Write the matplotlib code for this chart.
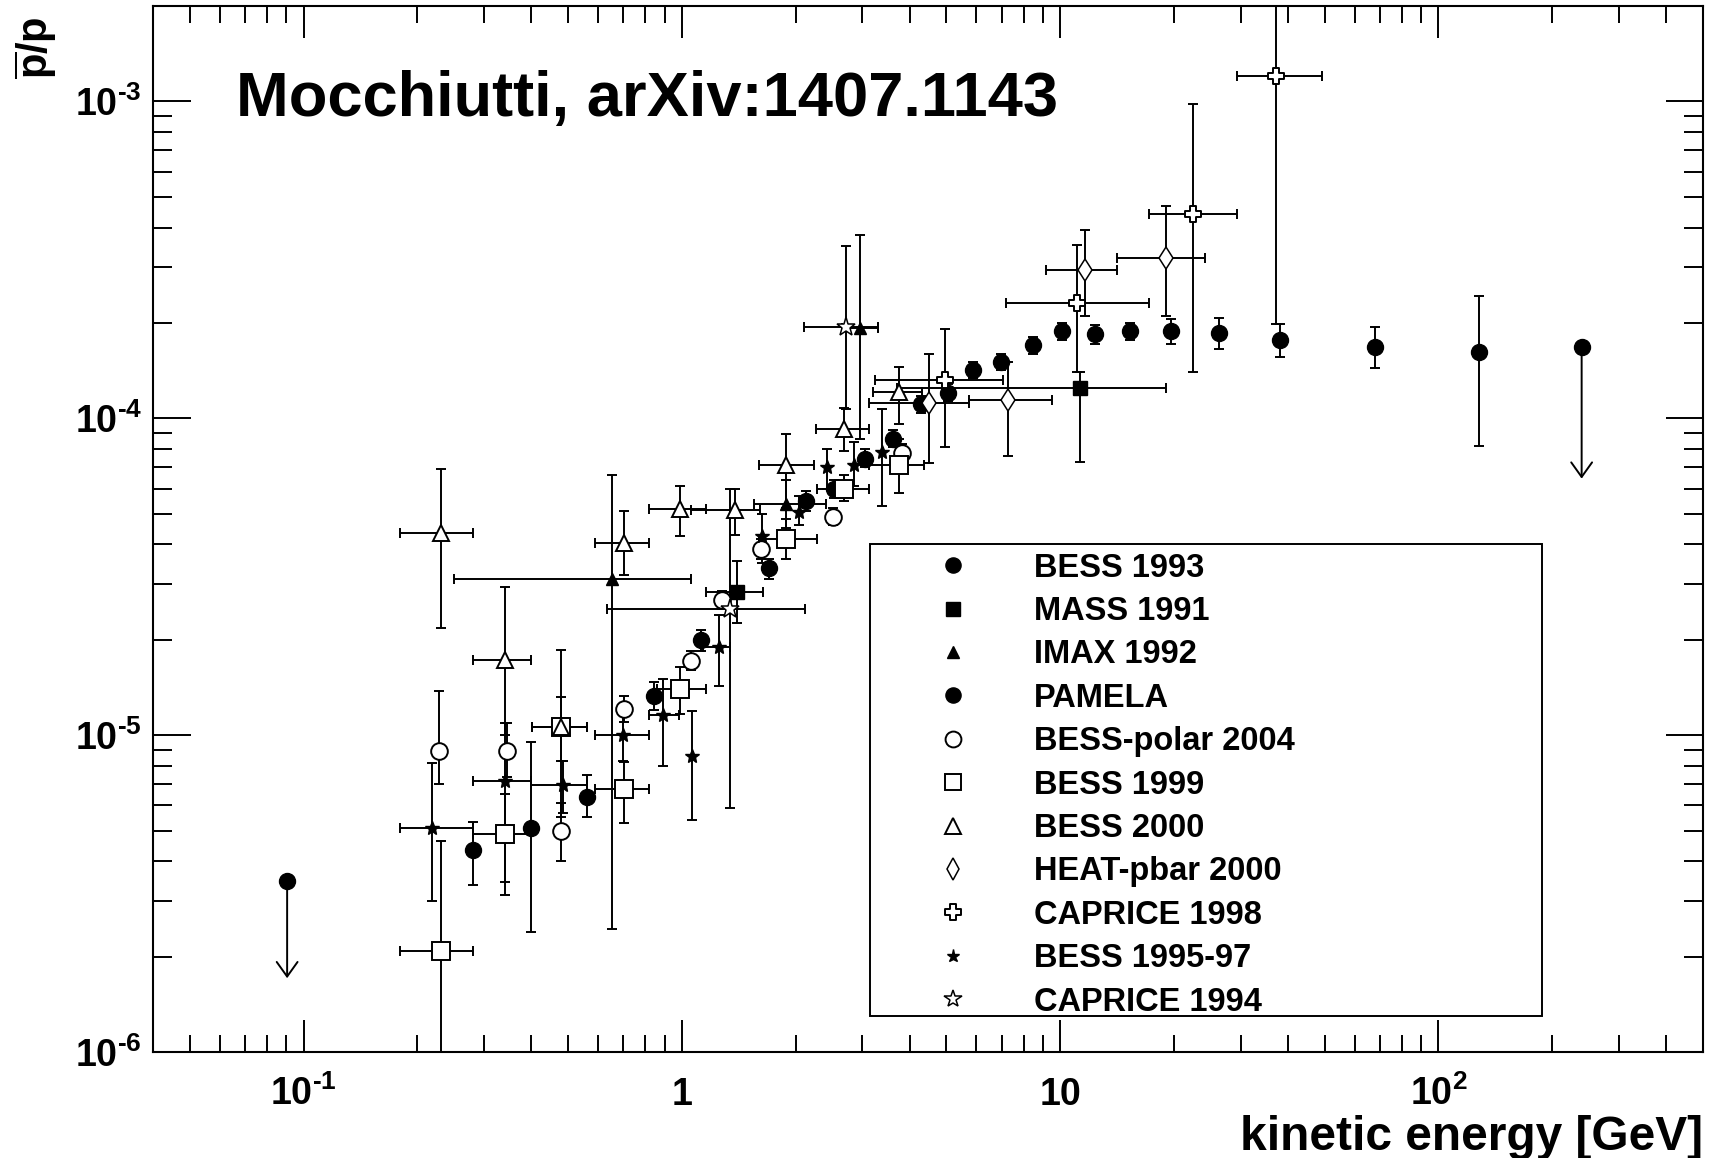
import numpy as np
import matplotlib
matplotlib.use('Agg')
import matplotlib.pyplot as plt
from matplotlib.path import Path
from matplotlib.lines import Line2D
from matplotlib.patches import Rectangle
from matplotlib.ticker import FixedLocator, FuncFormatter, LogLocator, NullFormatter

plt.rcParams['font.family'] = ['Liberation Sans', 'DejaVu Sans']
plt.rcParams['font.weight'] = 'bold'
plt.rcParams['mathtext.fontset'] = 'custom'
plt.rcParams['mathtext.rm'] = 'Liberation Sans:bold'
plt.rcParams['mathtext.bf'] = 'Liberation Sans:bold'
plt.rcParams['mathtext.it'] = 'Liberation Sans:bold'

# ---- data: kinetic energy [GeV], pbar/p ratio, error bounds ----
bess93_E = [0.40]
bess93_R = [5.1e-6]
bess93_lo = [2.4e-6]
bess93_hi = [9.5e-6]

mass91_E = [1.40, 11.3]
mass91_Elo = [1.155, 3.7]
mass91_Ehi = [1.64, 19.1]
mass91_R = [2.83e-5, 1.25e-4]
mass91_lo = [2.26e-5, 7.3e-5]
mass91_hi = [3.55e-5, 1.4e-4]

imax92_E = [0.655, 1.88, 2.95]
imax92_Elo = [0.25, 1.55, 2.65]
imax92_Ehi = [1.06, 2.4, 3.3]
imax92_R = [3.1e-5, 5.35e-5, 1.93e-4]
imax92_lo = [2.45e-6, 4.5e-5, 8.6e-5]
imax92_hi = [6.6e-5, 6.4e-5, 3.8e-4]

pamela_E = [0.28, 0.56, 0.845, 1.125, 1.70, 2.13, 2.53, 3.04, 3.62, 4.29, 5.05,
            5.9, 6.97, 8.5, 10.1, 12.35, 15.3, 19.6, 26.3, 38.0, 68.0, 127.6]
pamela_R = [4.33e-6, 6.4e-6, 1.33e-5, 1.99e-5, 3.36e-5, 5.5e-5, 6.0e-5, 7.45e-5,
            8.61e-5, 1.11e-4, 1.2e-4, 1.42e-4, 1.5e-4, 1.70e-4, 1.88e-4, 1.84e-4,
            1.88e-4, 1.88e-4, 1.86e-4, 1.76e-4, 1.68e-4, 1.62e-4]
pamela_lo = [3.36e-6, 5.5e-6, 1.2e-5, 1.85e-5, 3.1e-5, 5.1e-5, 5.6e-5, 7.0e-5,
             8.1e-5, 1.04e-4, 1.13e-4, 1.34e-4, 1.42e-4, 1.60e-4, 1.76e-4, 1.72e-4,
             1.76e-4, 1.72e-4, 1.66e-4, 1.56e-4, 1.44e-4, 8.2e-5]
pamela_hi = [5.33e-6, 7.5e-6, 1.47e-5, 2.15e-5, 3.6e-5, 5.9e-5, 6.4e-5, 8.0e-5,
             9.2e-5, 1.18e-4, 1.28e-4, 1.51e-4, 1.60e-4, 1.81e-4, 2.0e-4, 1.97e-4,
             2.0e-4, 2.06e-4, 2.08e-4, 1.98e-4, 1.94e-4, 2.43e-4]
# upper limits (drawn with arrows)
pamela_ul_E = [0.0905, 239]
pamela_ul_R = [3.47e-6, 1.68e-4]
pamela_ul_to = [1.71e-6, 6.45e-5]

bpolar_E = [0.228, 0.344, 0.479, 0.705, 1.055, 1.28, 1.62, 2.51, 3.83]
bpolar_R = [8.89e-6, 8.89e-6, 5.0e-6, 1.21e-5, 1.72e-5, 2.67e-5, 3.87e-5, 4.89e-5, 7.78e-5]
bpolar_lo = [7.0e-6, 7.4e-6, 4.0e-6, 1.1e-5, 1.6e-5, 2.5e-5, 3.6e-5, 4.6e-5, 7.3e-5]
bpolar_hi = [1.38e-5, 1.09e-5, 6.1e-6, 1.33e-5, 1.85e-5, 2.85e-5, 4.15e-5, 5.2e-5, 8.3e-5]

bess99_E = [0.231, 0.340, 0.479, 0.705, 0.989, 1.89, 2.69, 3.74]
bess99_Elo = [0.180, 0.28, 0.402, 0.59, 0.862, 1.6, 2.27, 3.13]
bess99_Ehi = [0.280, 0.40, 0.56, 0.82, 1.155, 2.27, 3.13, 4.36]
bess99_R = [2.08e-6, 4.86e-6, 1.06e-5, 6.78e-6, 1.40e-5, 4.17e-5, 6.0e-5, 7.13e-5]
bess99_lo = [5e-7, 3.13e-6, 8.3e-6, 5.3e-6, 1.17e-5, 3.6e-5, 5.5e-5, 5.8e-5]
bess99_hi = [4.64e-6, 6.5e-6, 1.32e-5, 8.2e-6, 1.64e-5, 4.8e-5, 6.6e-5, 8.6e-5]

bess00_E = [0.231, 0.34, 0.479, 0.705, 0.99, 1.385, 1.89, 2.69, 3.74]
bess00_Elo = [0.18, 0.28, 0.402, 0.59, 0.82, 1.055, 1.60, 2.26, 3.2]
bess00_Ehi = [0.28, 0.40, 0.56, 0.82, 1.155, 1.61, 2.24, 3.13, 4.3]
bess00_R = [4.33e-5, 1.73e-5, 1.06e-5, 4.03e-5, 5.18e-5, 5.13e-5, 7.1e-5, 9.27e-5, 1.21e-4]
bess00_lo = [2.18e-5, 1.0e-5, 5.5e-6, 3.2e-5, 4.25e-5, 4.27e-5, 5.2e-5, 7.9e-5, 9.6e-5]
bess00_hi = [6.92e-5, 2.94e-5, 1.86e-5, 5.1e-5, 6.13e-5, 6.0e-5, 8.95e-5, 1.08e-4, 1.45e-4]

heat_E = [4.5, 7.3, 11.6, 19.05]
heat_Elo = [3.13, 5.75, 9.2, 14.1]
heat_Ehi = [5.75, 9.5, 14.1, 24.2]
heat_R = [1.12e-4, 1.14e-4, 2.93e-4, 3.21e-4]
heat_lo = [7.2e-5, 7.6e-5, 2.11e-4, 2.11e-4]
heat_hi = [1.6e-4, 1.51e-4, 3.94e-4, 4.66e-4]

cap98_E = [4.97, 11.1, 22.4, 37.3]
cap98_Elo = [3.24, 7.2, 17.2, 29.3]
cap98_Ehi = [7.08, 17.2, 29.3, 49.3]
cap98_R = [1.32e-4, 2.31e-4, 4.4e-4, 1.2e-3]
cap98_lo = [8.1e-5, 1.4e-4, 1.4e-4, 1.98e-4]
cap98_hi = [1.91e-4, 3.51e-4, 9.8e-4, 3.0e-3]

bess9597_E = [0.219, 0.34, 0.486, 0.698, 0.894, 1.065, 1.256, 1.63, 2.04, 2.42, 2.85, 3.38]
bess9597_Elo = [0.18, 0.28, 0.40, 0.59, 0.82, 1.065, 1.14, 1.63, 2.04, 2.42, 2.85, 3.38]
bess9597_Ehi = [0.28, 0.40, 0.56, 0.82, 0.98, 1.065, 1.34, 1.63, 2.04, 2.42, 2.85, 3.38]
bess9597_R = [5.1e-6, 7.16e-6, 6.95e-6, 1.0e-5, 1.16e-5, 8.6e-6, 1.9e-5, 4.25e-5,
              5.07e-5, 7.0e-5, 7.1e-5, 7.82e-5]
bess9597_lo = [2.99e-6, 3.45e-6, 5.7e-6, 8.3e-6, 8.0e-6, 5.4e-6, 1.43e-5, 3.5e-5,
               4.6e-5, 6.0e-5, 6.1e-5, 5.3e-5]
bess9597_hi = [8.15e-6, 1.09e-5, 8.3e-6, 1.2e-5, 1.5e-5, 1.19e-5, 2.39e-5, 5.0e-5,
               5.7e-5, 8.0e-5, 8.4e-5, 1.07e-4]

cap94_E = [1.34, 2.72]
cap94_Elo = [0.635, 2.1]
cap94_Ehi = [2.11, 3.3]
cap94_R = [2.5e-5, 1.94e-4]
cap94_lo = [5.9e-6, 1.07e-4]
cap94_hi = [6.0e-5, 3.5e-4]

# open cross marker (ROOT style 28)
a = 0.17
cross_path = Path([(-a, 0.5), (a, 0.5), (a, a), (0.5, a), (0.5, -a), (a, -a),
                   (a, -0.5), (-a, -0.5), (-a, -a), (-0.5, -a), (-0.5, a), (-a, a),
                   (-a, 0.5)], closed=True)

LW = 1.4

fig = plt.figure(figsize=(17.17, 11.58), dpi=100)
ax = fig.add_axes([0.0891, 0.0915, 0.9027, 0.9033])


def draw(E, R, lo, hi, Elo=None, Ehi=None, **style):
    E = np.asarray(E)
    R = np.asarray(R)
    yerr = [R - np.asarray(lo), np.asarray(hi) - R]
    ax.errorbar(E, R, yerr=yerr, fmt='none', ecolor='black', elinewidth=LW,
                capsize=3.6, capthick=LW, zorder=2)
    if Elo is not None:
        Elo = np.asarray(Elo)
        Ehi = np.asarray(Ehi)
        m = (Ehi - Elo) > 0
        ax.errorbar(E[m], R[m], xerr=[E[m] - Elo[m], Ehi[m] - E[m]], fmt='none',
                    ecolor='black', elinewidth=LW, capsize=3.6, capthick=LW, zorder=2)
    ax.plot(E, R, linestyle='none', zorder=3, **style)


st = {
    'BESS 1993': dict(marker='o', ms=11.5, mfc='black', mec='black'),
    'MASS 1991': dict(marker='s', ms=10.5, mfc='black', mec='black'),
    'IMAX 1992': dict(marker='^', ms=9, mfc='black', mec='black'),
    'PAMELA': dict(marker='o', ms=11.5, mfc='black', mec='black'),
    'BESS-polar 2004': dict(marker='o', ms=12, mfc='white', mec='black', mew=LW),
    'BESS 1999': dict(marker='s', ms=12.5, mfc='white', mec='black', mew=LW),
    'BESS 2000': dict(marker='^', ms=12, mfc='white', mec='black', mew=LW),
    'HEAT-pbar 2000': dict(marker='d', ms=11.5, mfc='white', mec='black', mew=1.1),
    'CAPRICE 1998': dict(marker=cross_path, ms=12, mfc='white', mec='black', mew=LW),
    'BESS 1995-97': dict(marker='*', ms=10, mfc='black', mec='black'),
    'CAPRICE 1994': dict(marker='*', ms=14, mfc='white', mec='black', mew=1.1),
}

draw(bess93_E, bess93_R, bess93_lo, bess93_hi, **st['BESS 1993'])
draw(mass91_E, mass91_R, mass91_lo, mass91_hi, mass91_Elo, mass91_Ehi, **st['MASS 1991'])
draw(imax92_E, imax92_R, imax92_lo, imax92_hi, imax92_Elo, imax92_Ehi, **st['IMAX 1992'])
draw(pamela_E, pamela_R, pamela_lo, pamela_hi, **st['PAMELA'])
ax.plot(pamela_ul_E, pamela_ul_R, linestyle='none', zorder=3, **st['PAMELA'])
for e, r, t in zip(pamela_ul_E, pamela_ul_R, pamela_ul_to):
    ax.annotate('', xy=(e, t), xytext=(e, r),
                arrowprops=dict(arrowstyle='->,head_length=0.35,head_width=0.25',
                                color='black', lw=LW, mutation_scale=30,
                                shrinkA=0, shrinkB=0), zorder=2)
draw(bpolar_E, bpolar_R, bpolar_lo, bpolar_hi, **st['BESS-polar 2004'])
draw(bess99_E, bess99_R, bess99_lo, bess99_hi, bess99_Elo, bess99_Ehi, **st['BESS 1999'])
draw(bess00_E, bess00_R, bess00_lo, bess00_hi, bess00_Elo, bess00_Ehi, **st['BESS 2000'])
draw(heat_E, heat_R, heat_lo, heat_hi, heat_Elo, heat_Ehi, **st['HEAT-pbar 2000'])
draw(cap98_E, cap98_R, cap98_lo, cap98_hi, cap98_Elo, cap98_Ehi, **st['CAPRICE 1998'])
draw(bess9597_E, bess9597_R, bess9597_lo, bess9597_hi, bess9597_Elo, bess9597_Ehi,
     **st['BESS 1995-97'])
draw(cap94_E, cap94_R, cap94_lo, cap94_hi, cap94_Elo, cap94_Ehi, **st['CAPRICE 1994'])

# axes
ax.set_xscale('log')
ax.set_yscale('log')
ax.set_xlim(0.04, 500)
ax.set_ylim(1e-6, 2e-3)

xlab = {0.1: r'$\mathbf{10^{\text{-}1}}$', 1: '1', 10: '10', 100: r'$\mathbf{10^{2}}$'}
ax.xaxis.set_major_locator(FixedLocator([0.1, 1, 10, 100]))
ax.xaxis.set_major_formatter(FuncFormatter(lambda v, p: xlab.get(round(v, 3), '')))
ax.xaxis.set_minor_locator(LogLocator(base=10, subs=np.arange(2, 10), numticks=30))
ax.xaxis.set_minor_formatter(NullFormatter())
ax.yaxis.set_major_locator(FixedLocator([1e-6, 1e-5, 1e-4, 1e-3]))
ax.yaxis.set_major_formatter(FuncFormatter(
    lambda v, p: r'$\mathbf{10^{\text{-}%d}}$' % abs(int(round(np.log10(v))))))
ax.yaxis.set_minor_locator(LogLocator(base=10, subs=np.arange(2, 10), numticks=30))
ax.yaxis.set_minor_formatter(NullFormatter())

ax.tick_params(which='both', direction='in', top=True, right=True, width=1.4,
               color='black', labelsize=27)
ax.tick_params(axis='x', which='major', length=23, pad=38)
ax.tick_params(axis='x', which='minor', length=12)
ax.tick_params(axis='y', which='major', length=27, pad=8)
ax.tick_params(axis='y', which='minor', length=14)
for lab in ax.get_xticklabels():
    lab.set_verticalalignment('baseline')
for s in ax.spines.values():
    s.set_linewidth(1.5)

ax.set_xlabel('kinetic energy [GeV]', fontsize=34.5, fontweight='bold',
              ha='right', va='baseline')
ax.xaxis.set_label_coords(1.0, -0.094)
ax.set_ylabel(r'$\mathbf{\overline{p}/p}$', fontsize=30, ha='center', va='center',
              rotation=90, rotation_mode='default')
ax.yaxis.set_label_coords(-0.0755, 0.96)

ax.text(0.0535, 0.895, 'Mocchiutti, arXiv:1407.1143', transform=ax.transAxes,
        fontsize=45.5, fontweight='bold', ha='left', va='baseline')

# legend
ax.add_patch(Rectangle((0.4626, 0.0344), 0.4334, 0.4513, transform=ax.transAxes,
                       facecolor='white', edgecolor='black', lw=1.4, zorder=4))
order = ['BESS 1993', 'MASS 1991', 'IMAX 1992', 'PAMELA', 'BESS-polar 2004',
         'BESS 1999', 'BESS 2000', 'HEAT-pbar 2000', 'CAPRICE 1998', 'BESS 1995-97',
         'CAPRICE 1994']
handles = []
for name in order:
    s = dict(st[name])
    s['ms'] = s['ms'] * 0.95
    handles.append(Line2D([], [], linestyle='none', label=name, **s))
leg = ax.legend(handles=handles, loc='upper left', bbox_to_anchor=(0.5054, 0.4775),
                frameon=False, fontsize=23.5, handlelength=1.0, handletextpad=2.0,
                labelspacing=0.38, borderpad=0, borderaxespad=0)
leg.set_zorder(5)

fig.savefig('out.png', dpi=100)
